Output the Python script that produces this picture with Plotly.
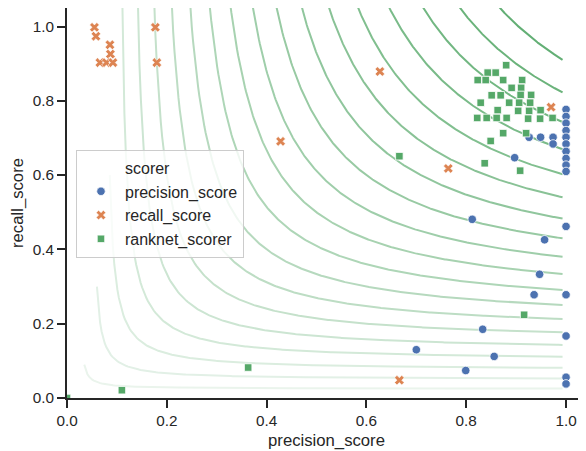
import numpy as np
import plotly.graph_objects as go

# ---------------- data ----------------
prec_p = [1.0, 1.0, 1.0, 1.0, 1.0, 1.0, 1.0, 1.0, 1.0, 1.0,
          1.0, 1.0, 1.0, 1.0, 1.0,
          0.812, 0.957, 0.947, 0.936, 0.833, 0.700, 0.856, 0.799,
          0.926, 0.949, 0.974, 0.974, 0.897]
prec_r = [0.777, 0.758, 0.740, 0.720, 0.702, 0.684, 0.664, 0.645, 0.627, 0.610,
          0.462, 0.278, 0.167, 0.056, 0.038,
          0.481, 0.426, 0.333, 0.278, 0.185, 0.130, 0.112, 0.074,
          0.702, 0.702, 0.702, 0.684, 0.647]

rec_p = [0.055, 0.058, 0.086, 0.087, 0.066, 0.079, 0.092, 0.177, 0.180,
         0.627, 0.428, 0.764, 0.970, 0.666]
rec_r = [0.998, 0.974, 0.951, 0.926, 0.903, 0.903, 0.903, 0.998, 0.903,
         0.879, 0.691, 0.618, 0.783, 0.048]

rank_p = [0.880, 0.843, 0.859, 0.823, 0.839, 0.874, 0.912, 0.891, 0.910,
          0.851, 0.869, 0.909, 0.930, 0.829, 0.886, 0.906, 0.928,
          0.863, 0.904, 0.926, 0.949, 0.822, 0.841, 0.861, 0.881,
          0.924, 0.948, 0.973, 0.874, 0.920, 0.849,
          0.837, 0.908, 0.666, 0.916, 0.363, 0.110, 0.0]
rank_r = [0.896, 0.876, 0.876, 0.856, 0.856, 0.856, 0.856, 0.835, 0.835,
          0.815, 0.815, 0.816, 0.816, 0.795, 0.795, 0.795, 0.795,
          0.775, 0.773, 0.773, 0.775, 0.754, 0.754, 0.754, 0.754,
          0.752, 0.752, 0.754, 0.713, 0.713, 0.692,
          0.632, 0.612, 0.651, 0.224, 0.082, 0.021, 0.0]

f1_levels = [round(0.05 * i, 2) for i in range(1, 20)]
# upper recall where each iso-F1 curve starts (low levels are truncated)
f1_rmax = {0.05: 0.09, 0.1: 0.30, 0.15: 0.60}

x_ticks = [0.0, 0.2, 0.4, 0.6, 0.8, 1.0]
y_ticks = [0.0, 0.2, 0.4, 0.6, 0.8, 1.0]

BLUE, ORANGE, GREEN = "#4C72B0", "#DD8452", "#55A868"
FONT = "Liberation Sans, Arial, sans-serif"
INK = "#262626"

fig = go.Figure()

# iso-F1 curves
for f in f1_levels:
    rmax = f1_rmax.get(f, 1.2)
    p_start = f * rmax / (2 * rmax - f)
    p = np.linspace(p_start, 0.993, 300)
    r = f * p / (2 * p - f)
    alpha = 0.08 + 0.88 * f
    rr = int(round(255 - alpha * (255 - 85)))
    gg = int(round(255 - alpha * (255 - 168)))
    bb = int(round(255 - alpha * (255 - 104)))
    fig.add_trace(go.Scatter(x=p, y=r, mode="lines",
                             line=dict(color=f"rgb({rr},{gg},{bb})", width=2),
                             showlegend=False, hoverinfo="skip"))

# legend title as an entry (seaborn style)
fig.add_trace(go.Scatter(x=[None], y=[None], mode="markers", name="scorer",
                         marker=dict(color="rgba(0,0,0,0)", size=8)))

fig.add_trace(go.Scatter(x=prec_p, y=prec_r, mode="markers", name="precision_score",
                         marker=dict(symbol="circle", size=8.5, color=BLUE,
                                     line=dict(color="white", width=0.8))))
fig.add_trace(go.Scatter(x=rec_p, y=rec_r, mode="markers", name="recall_score",
                         marker=dict(symbol="x", size=8.5, color=ORANGE,
                                     line=dict(color="white", width=0.6))))
fig.add_trace(go.Scatter(x=rank_p, y=rank_r, mode="markers", name="ranknet_scorer",
                         marker=dict(symbol="square", size=7.5, color=GREEN,
                                     line=dict(color="white", width=0.8))))

axis_common = dict(showgrid=False, zeroline=False, showline=True, automargin=False,
                   linecolor=INK, linewidth=1.7, ticks="outside", ticklen=8,
                   tickwidth=1.7, tickcolor=INK, tickformat=".1f",
                   tickfont=dict(family=FONT, size=15.3, color=INK))

# page body has an 8px margin, so the figure is 8px smaller and margins shifted
fig.update_layout(
    width=578, height=443,
    margin=dict(l=59, r=0, t=0, b=53),
    plot_bgcolor="white", paper_bgcolor="white",
    font=dict(family=FONT, color=INK),
    xaxis=dict(range=[0, 1.04], tickvals=x_ticks, mirror=True,
               title=dict(text="precision_score", font=dict(family=FONT, size=16.7, color=INK),
                          standoff=6),
               **axis_common),
    yaxis=dict(range=[0, 1.05], tickvals=y_ticks,
               title=dict(text="recall_score", font=dict(family=FONT, size=16.7, color=INK),
                          standoff=8),
               **axis_common),
    legend=dict(x=0.0173, y=0.637, xanchor="left", yanchor="top",
                bgcolor="rgba(255,255,255,0.8)", bordercolor="#cccccc", borderwidth=1,
                font=dict(family=FONT, size=16, color=INK), itemwidth=38),
    showlegend=True,
)

fig.write_html("out.html")
